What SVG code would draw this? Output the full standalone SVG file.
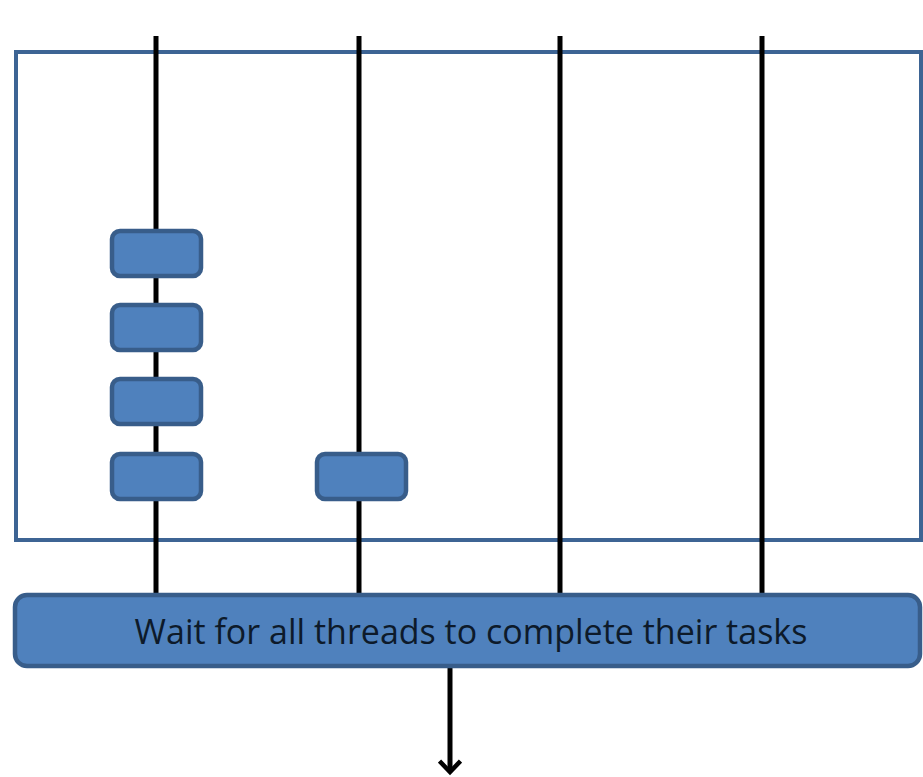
<svg xmlns="http://www.w3.org/2000/svg" width="923" height="777" viewBox="0 0 923 777">
  <defs>
    <style>
      .frame { fill: #ffffff; stroke: #3d6494; stroke-width: 4; }
      .thread { stroke: #000000; stroke-width: 5; fill: none; }
      .task { fill: #4f81bd; stroke: #385d8a; stroke-width: 4.5; }
      .label { font-family: "Open Sans", "Liberation Sans", sans-serif; font-size: 34px; fill: #0d1a2a; text-anchor: middle; }
    </style>
    <marker id="arrowhead" viewBox="0 0 24 24" refX="20" refY="12" markerWidth="24" markerHeight="24" markerUnits="userSpaceOnUse" orient="auto">
      <path d="M9,1.5 L20,12 L9,22.5" fill="none" stroke="#000" stroke-width="4.5"/>
    </marker>
  </defs>
  <rect width="923" height="777" fill="#ffffff"/>

  <!-- parallel region frame -->
  <g id="region">
    <rect class="frame" x="16" y="52" width="905" height="488"/>
  </g>

  <!-- thread lines and join arrow -->
  <g id="connectors">
    <line class="thread" x1="156" y1="36" x2="156" y2="595"/>
    <line class="thread" x1="359" y1="36" x2="359" y2="595"/>
    <line class="thread" x1="560" y1="36" x2="560" y2="595"/>
    <line class="thread" x1="762" y1="36" x2="762" y2="595"/>
    <line class="thread" x1="450" y1="666" x2="450" y2="772" marker-end="url(#arrowhead)"/>
  </g>

  <!-- tasks on thread 1 -->
  <g id="task-1-1"><rect class="task" x="112" y="231" width="89" height="45" rx="8"/></g>
  <g id="task-1-2"><rect class="task" x="112" y="305" width="89" height="45" rx="8"/></g>
  <g id="task-1-3"><rect class="task" x="112" y="379" width="89" height="45" rx="8"/></g>
  <g id="task-1-4"><rect class="task" x="112" y="454" width="89" height="45" rx="8"/></g>
  <!-- task on thread 2 -->
  <g id="task-2-1"><rect class="task" x="317" y="454" width="89" height="45" rx="8"/></g>

  <!-- barrier -->
  <g id="barrier">
    <rect class="task" x="15" y="595" width="905" height="71" rx="12"/>
    <text class="label" x="471" y="644">Wait for all threads to complete their tasks</text>
  </g>
</svg>
